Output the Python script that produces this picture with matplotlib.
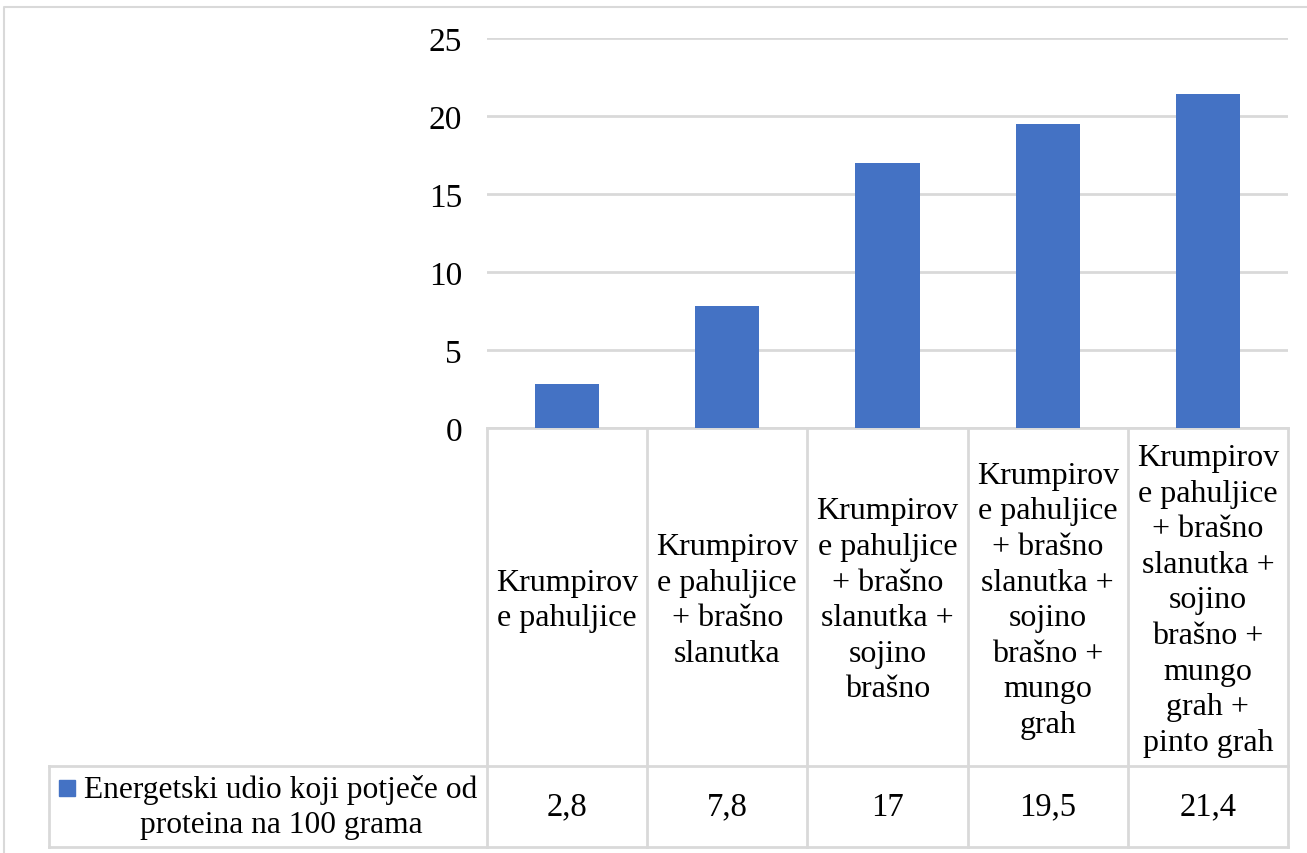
import matplotlib.pyplot as plt
from matplotlib.patches import Rectangle

categories = [
    "Krumpirov\ne pahuljice",
    "Krumpirov\ne pahuljice\n+ brašno\nslanutka",
    "Krumpirov\ne pahuljice\n+ brašno\nslanutka +\nsojino\nbrašno",
    "Krumpirov\ne pahuljice\n+ brašno\nslanutka +\nsojino\nbrašno +\nmungo\ngrah",
    "Krumpirov\ne pahuljice\n+ brašno\nslanutka +\nsojino\nbrašno +\nmungo\ngrah +\npinto grah",
]
values = [2.8, 7.8, 17, 19.5, 21.4]
value_labels = ["2,8", "7,8", "17", "19,5", "21,4"]
series_name = "Energetski udio koji potječe od\nproteina na 100 grama"

W, H = 1307, 854
BLUE = "#4472C4"
GRID = "#D9D9D9"
FS = 23

plt.rcParams['font.family'] = ['Liberation Serif', 'DejaVu Serif']

fig = plt.figure(figsize=(W / 100, H / 100), dpi=100)

# pixel geometry of the plot area / table
x0, x1 = 487, 1288
y_top, y_zero = 39, 429
y_row, y_bot = 767, 848
x_leg = 49

# overlay axes in pixel coordinates for table and frame
ov = fig.add_axes([0, 0, 1, 1])
ov.set_xlim(0, W)
ov.set_ylim(H, 0)
ov.axis("off")

# main bar axes
ax = fig.add_axes([x0 / W, 1 - y_zero / H, (x1 - x0) / W, (y_zero - y_top) / H])
n = len(values)
ax.bar(range(n), values, width=0.4, color=BLUE, zorder=3)
ax.set_xlim(-0.5, n - 0.5)
ax.set_ylim(0, 25)
ax.set_yticks(range(0, 26, 5))
ax.set_yticklabels([str(v) for v in range(0, 26, 5)], fontsize=FS + 1)
ax.tick_params(axis="y", length=0, pad=18)
ax.set_xticks([])
ax.yaxis.grid(True, color=GRID, linewidth=2)
for s in ax.spines.values():
    s.set_visible(False)
ax.patch.set_alpha(0)

# outer chart border (left and top visible)
ov.plot([4, 4, W + 5], [H + 5, 8, 8], color=GRID, lw=1.5, clip_on=False)

# table lines
col_w = (x1 - x0) / n
cols = [x0 + i * col_w for i in range(n + 1)]
lw = 2
ov.plot([x0, x1], [y_zero, y_zero], color=GRID, lw=lw)
ov.plot([x_leg, x1], [y_row, y_row], color=GRID, lw=lw)
ov.plot([x_leg, x1], [y_bot, y_bot], color=GRID, lw=lw)
ov.plot([x_leg, x_leg], [y_row, y_bot], color=GRID, lw=lw)
for cx in cols:
    ov.plot([cx, cx], [y_zero, y_bot], color=GRID, lw=lw)

# category labels and values
for i, (lab, vl) in enumerate(zip(categories, value_labels)):
    cx = (cols[i] + cols[i + 1]) / 2
    ov.text(cx, (y_zero + y_row) / 2 + 3, lab, ha="center", va="center",
            fontsize=FS, linespacing=1.3, multialignment="center")
    ov.text(cx, (y_row + y_bot) / 2, vl, ha="center", va="center", fontsize=FS + 0.5)

# legend cell
ov.add_patch(Rectangle((59, 781), 16, 16, color=BLUE))
ov.text(281, (y_row + y_bot) / 2, series_name, ha="center", va="center",
        fontsize=FS - 0.3, linespacing=1.3, multialignment="center")

fig.savefig("out.png", dpi=100)
